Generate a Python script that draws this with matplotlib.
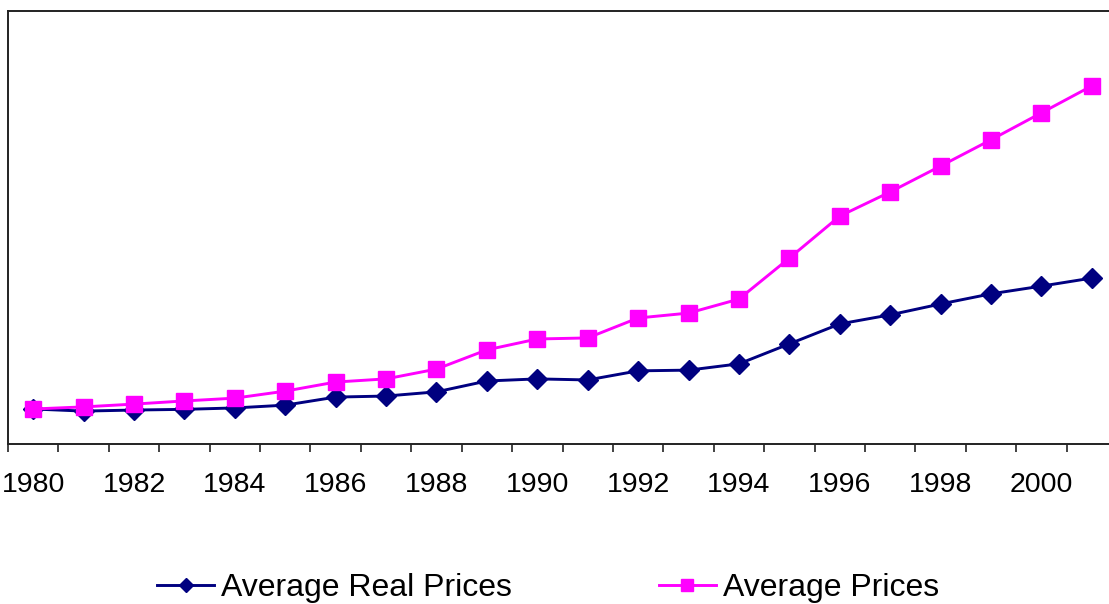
import matplotlib.pyplot as plt
import numpy as np

years = list(range(1980, 2002))
avg_real_prices = [100, 94, 97, 99, 103, 111, 134, 137, 149, 180, 186, 183,
                   209, 211, 229, 286, 343, 369, 400, 429, 451, 474]
avg_prices = [100, 106, 114, 123, 131, 151, 177, 186, 214, 269, 300, 303,
              360, 374, 414, 531, 651, 720, 794, 869, 946, 1023]
tick_labels = [str(y) for y in years[::2]]

plt.rcParams["font.family"] = ["Liberation Sans", "DejaVu Sans"]

fig = plt.figure(figsize=(11.09, 6.04), dpi=100)
ax = fig.add_axes([8 / 1109, 1 - 444 / 604, 1109 / 1109, 433 / 604])

x = np.arange(len(years))
ax.plot(x, avg_real_prices, color="#000080", linewidth=2.1, marker="D",
        markersize=10.5, label="Average Real Prices")
ax.plot(x, avg_prices, color="#FF00FF", linewidth=2.1, marker="s",
        markersize=11.5, label="Average Prices")

ax.set_xlim(-0.5, len(years) - 0.5)
ax.set_ylim(0, 1237)

# category boundaries get the tick marks, labels sit in the middle
ax.set_xticks(x[::2])
ax.set_xticklabels(tick_labels, fontsize=20.5)
ax.set_xticks(np.arange(len(years) + 1) - 0.5, minor=True)
ax.tick_params(axis="x", which="major", length=0, pad=20)
ax.tick_params(axis="x", which="minor", length=6, width=1.2, direction="out",
               color="#222222")
ax.set_yticks([])

for side in ["left", "top", "bottom"]:
    ax.spines[side].set_color("#222222")
    ax.spines[side].set_linewidth(1.4)
ax.spines["right"].set_visible(False)

fig.legend(loc="center", bbox_to_anchor=(0.494, 1 - 588 / 604), ncol=2,
           frameon=False, fontsize=23, handlelength=1.8, columnspacing=4.6,
           handletextpad=0.2, markerscale=0.7)

fig.savefig("out.png", dpi=100)
